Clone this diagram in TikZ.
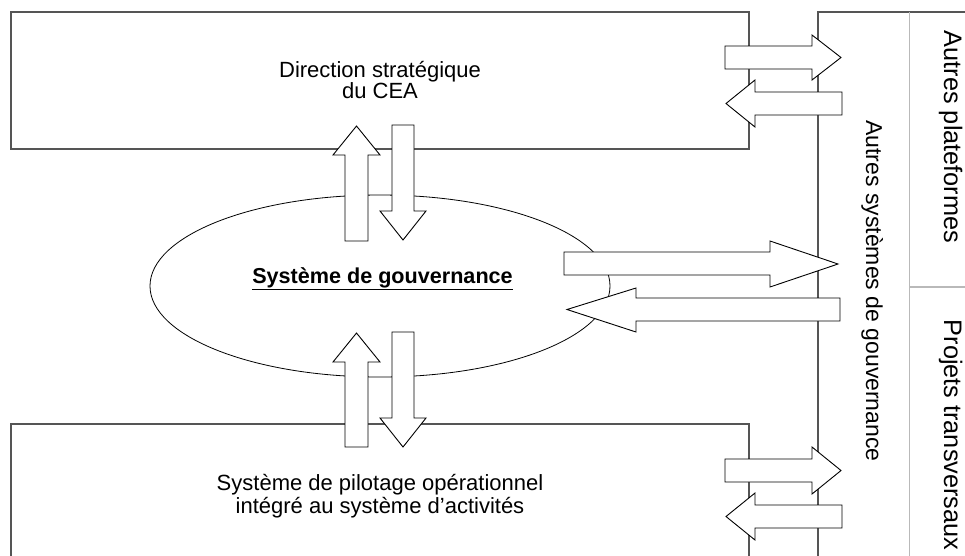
\documentclass[tikz,border=0pt]{standalone}
\usepackage{fontspec}
\setmainfont{Liberation Sans}
\definecolor{framegray}{RGB}{85,85,85}
\definecolor{sepgray}{RGB}{185,185,185}
\usetikzlibrary{shapes.geometric}

\begin{document}
\begin{tikzpicture}[x=1pt, y=-1pt,
    panel/.style={rectangle, draw=framegray, line width=1.3pt, inner sep=0pt,
                  font=\fontsize{22}{21}\selectfont, align=center},
    govellipse/.style={ellipse, draw=black, line width=0.8pt, inner sep=0pt},
    blockarrow/.style={draw=black, fill=white, line width=0.9pt, line join=miter},
    sidetext/.style={rotate=-90, anchor=base, font=\fontsize{23}{23}\selectfont},
  ]
    \useasboundingbox (0,0) rectangle (965,555);

    % Boxes
    \node[panel, minimum width=738pt, minimum height=137pt] (direction) at (380,80.5)
      {Direction stratégique\\du CEA};
    \node[panel, minimum width=738pt, minimum height=144pt, font=\fontsize{22}{23}\selectfont]
      (pilotage) at (380,496)
      {Système de pilotage opérationnel\\intégré au système d’activités};
    \node[govellipse, minimum width=460pt, minimum height=182pt] (ellipse) at (380,286) {};
    \node[font=\fontsize{21.6}{22}\selectfont\bfseries] (gouvernance) at (382.5,279)
      {\underline{Système de gouvernance}};

    % Right column
    \coordinate (colbottom) at (818,560);
    \coordinate (coltop) at (818,12);
    \coordinate (colright) at (970,12);
    \draw[framegray, line width=1.3pt] (colbottom) -- (coltop) -- (colright);
    \coordinate (septop) at (909.5,12);
    \coordinate (sepbottom) at (909.5,560);
    \coordinate (sepleft) at (909.5,287);
    \coordinate (sepright) at (970,287);
    \draw[sepgray, line width=1.3pt] (septop) -- (sepbottom);
    \draw[sepgray, line width=1.3pt] (sepleft) -- (sepright);

    % Block arrows: direction <-> gouvernance
    \draw[blockarrow] (345,241) -- (345,155) -- (333,155) -- (356.5,126) -- (380,155)
      -- (368,155) -- (368,241) -- cycle;
    \draw[blockarrow] (392,125) -- (392,211) -- (380,211) -- (403,240) -- (426,211)
      -- (414,211) -- (414,125) -- cycle;

    % Block arrows: gouvernance <-> pilotage
    \draw[blockarrow] (345,447) -- (345,362) -- (333,362) -- (356.5,333) -- (380,362)
      -- (368,362) -- (368,447) -- cycle;
    \draw[blockarrow] (392,332) -- (392,418) -- (380,418) -- (403,447) -- (426,418)
      -- (414,418) -- (414,332) -- cycle;

    % Block arrows: gouvernance <-> autres systemes
    \draw[blockarrow] (564,252) -- (770,252) -- (770,241) -- (838,264) -- (770,287)
      -- (770,275) -- (564,275) -- cycle;
    \draw[blockarrow] (840,298) -- (636,298) -- (636,288) -- (567,309.5) -- (636,332)
      -- (636,321) -- (840,321) -- cycle;

    % Block arrows: direction <-> autres systemes
    \draw[blockarrow] (725,46) -- (812,46) -- (812,35) -- (841,57.5) -- (812,80)
      -- (812,69) -- (725,69) -- cycle;
    \draw[blockarrow] (842,92) -- (755,92) -- (755,80) -- (726,103.5) -- (755,127)
      -- (755,115) -- (842,115) -- cycle;

    % Block arrows: pilotage <-> autres systemes
    \draw[blockarrow] (725,459) -- (812,459) -- (812,447) -- (841,470.5) -- (812,494)
      -- (812,482) -- (725,482) -- cycle;
    \draw[blockarrow] (842,505) -- (755,505) -- (755,493) -- (726,516.5) -- (755,540)
      -- (755,528) -- (842,528) -- cycle;

    % Side labels
    \node[sidetext] (autressys) at (866,291) {Autres systèmes de gouvernance};
    \node[sidetext, font=\fontsize{25.3}{25}\selectfont] (plateformes) at (944,137)
      {Autres plateformes};
    \node[sidetext, font=\fontsize{25.3}{25}\selectfont] (projets) at (944,435)
      {Projets transversaux};
  \end{tikzpicture}
\end{document}
